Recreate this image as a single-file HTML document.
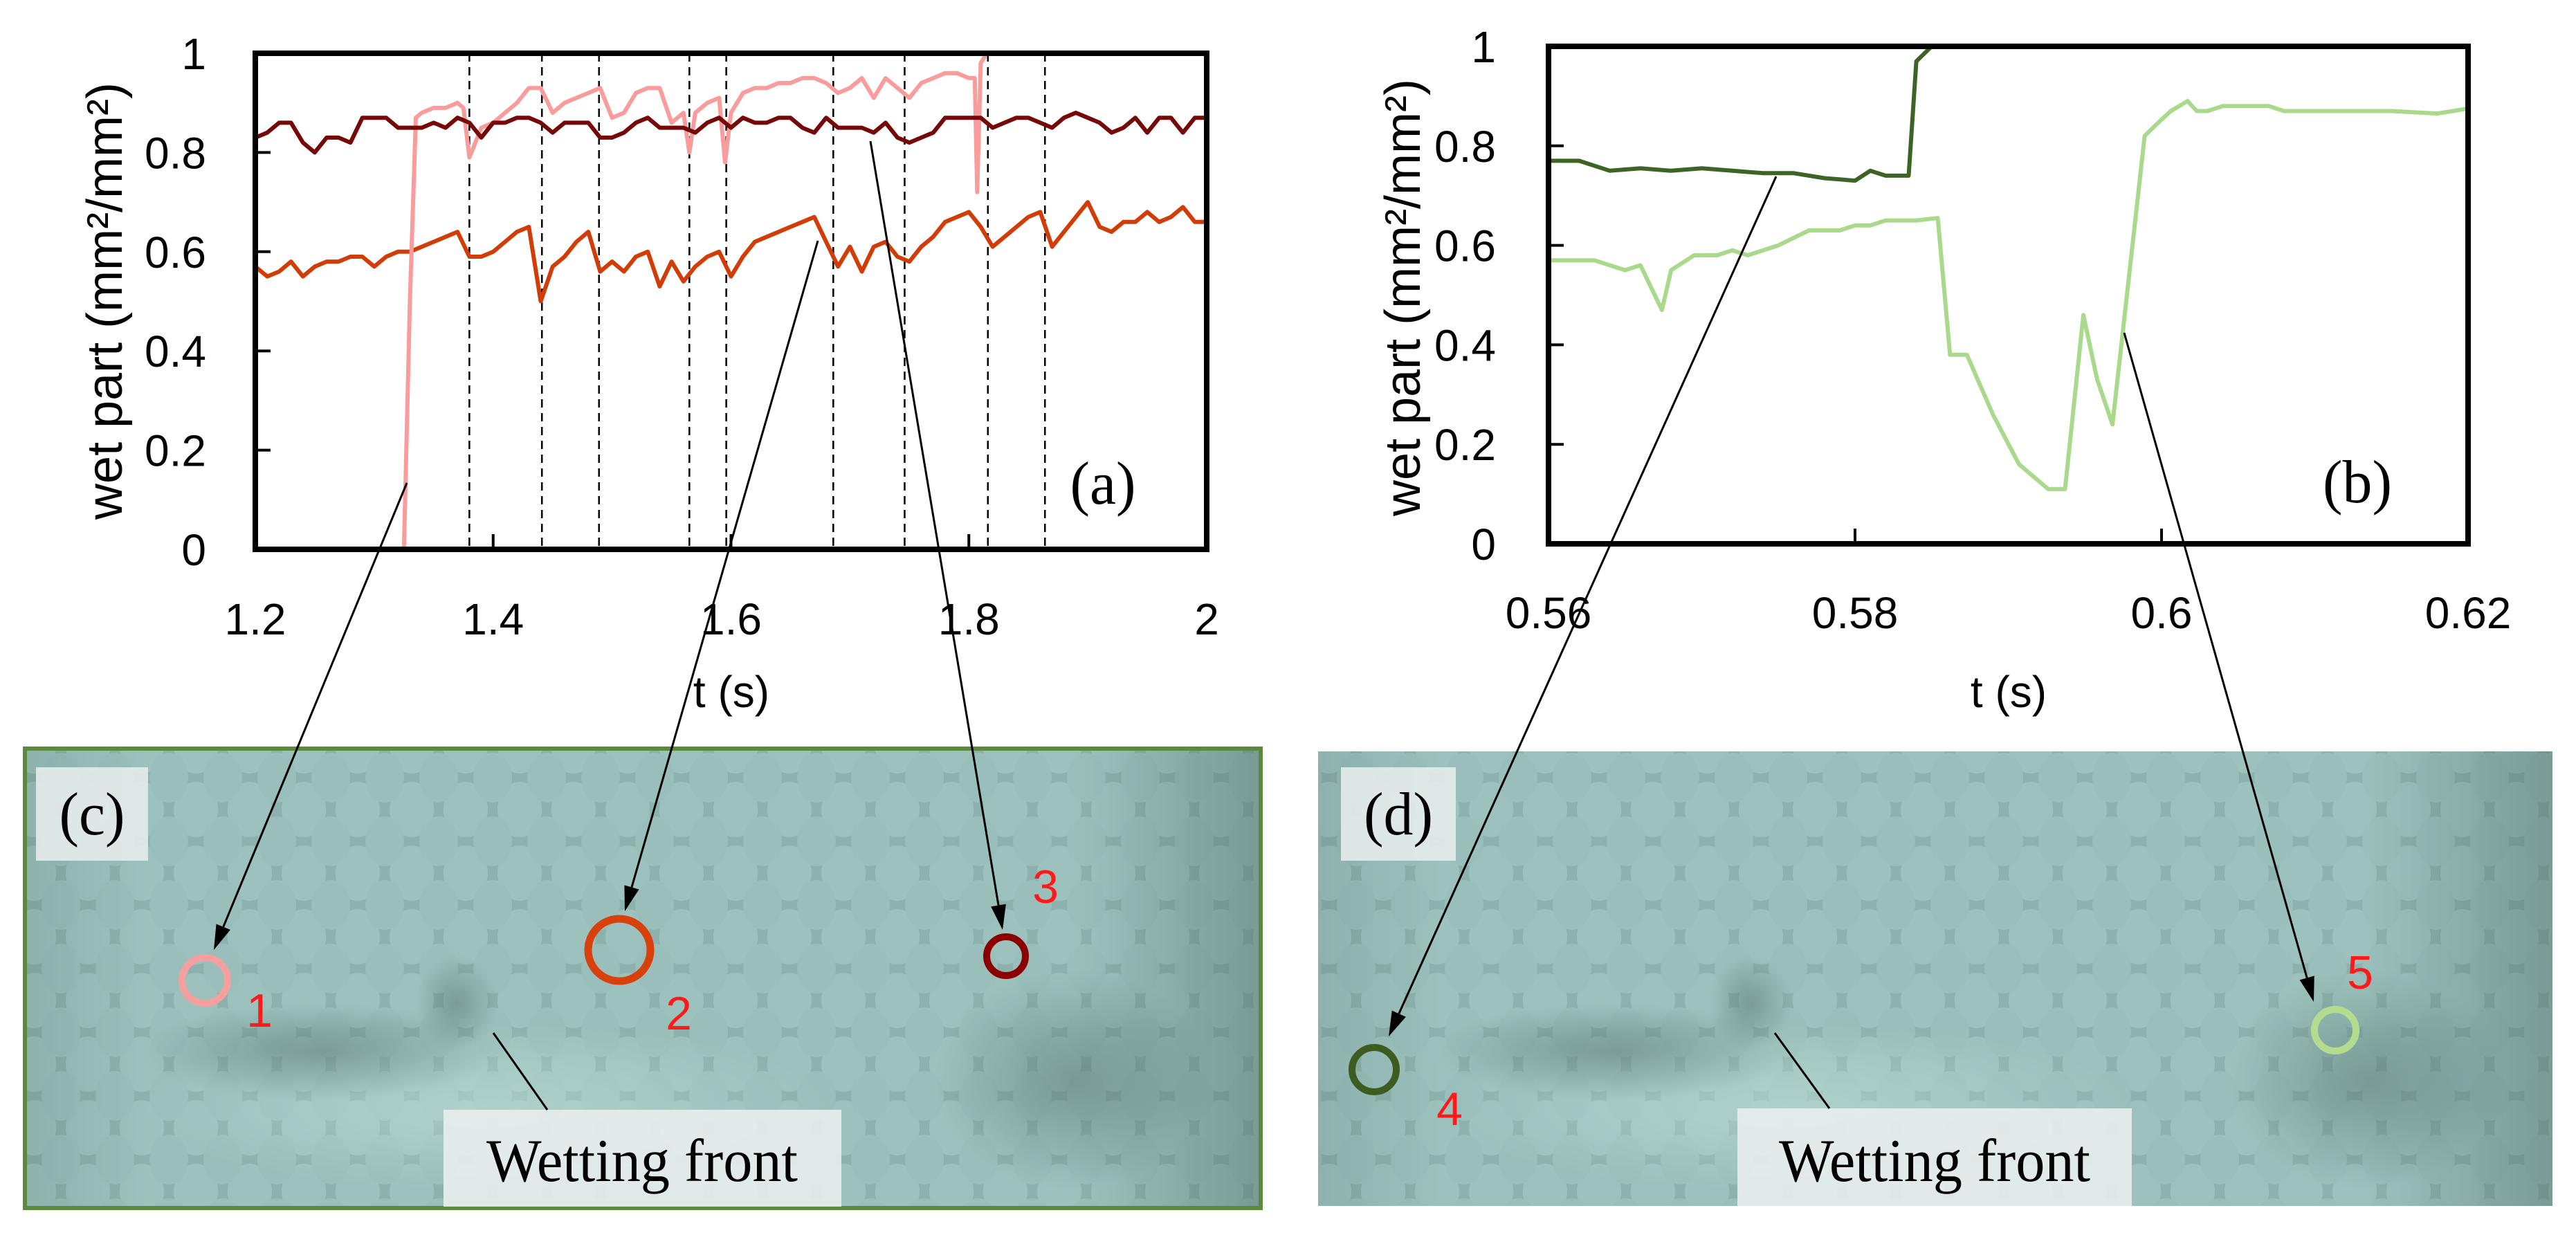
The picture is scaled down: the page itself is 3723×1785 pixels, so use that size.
<!DOCTYPE html>
<html><head><meta charset="utf-8"><style>
html,body{margin:0;padding:0;background:#fff;}
svg{display:block;}
.tk{font-family:"Liberation Sans Narrow","Liberation Sans",sans-serif;font-size:64px;fill:#000;}
.ser{font-family:"Liberation Serif",serif;fill:#000;}
.num{font-family:"Liberation Sans Narrow","Liberation Sans",sans-serif;font-size:68px;fill:#ff1a1a;}
</style></head><body>
<svg id="fig" width="3723" height="1785" viewBox="0 0 3723 1785" xmlns="http://www.w3.org/2000/svg">
<defs>
<pattern id="bub" width="78" height="92" patternUnits="userSpaceOnUse" patternTransform="translate(10,20)">
<rect width="78" height="92" fill="#8db1ac"/>
<ellipse cx="39" cy="46" rx="32" ry="40" fill="#9dc2bd"/>
<ellipse cx="0" cy="0" rx="28" ry="36" fill="#9abfba"/>
<ellipse cx="78" cy="0" rx="28" ry="36" fill="#9abfba"/>
<ellipse cx="0" cy="92" rx="28" ry="36" fill="#9abfba"/>
<ellipse cx="78" cy="92" rx="28" ry="36" fill="#9abfba"/>
</pattern>
<linearGradient id="shadeR" x1="0" x2="1" y1="0" y2="0">
<stop offset="0" stop-color="#3a5552" stop-opacity="0.15"/>
<stop offset="0.1" stop-color="#3a5552" stop-opacity="0"/>
<stop offset="0.85" stop-color="#3a5552" stop-opacity="0"/>
<stop offset="1" stop-color="#3a5552" stop-opacity="0.35"/>
</linearGradient>
<radialGradient id="darkblob"><stop offset="0" stop-color="#4e6966" stop-opacity="0.45"/><stop offset="1" stop-color="#4e6966" stop-opacity="0"/></radialGradient>
<radialGradient id="lightblob"><stop offset="0" stop-color="#c3e3dd" stop-opacity="0.5"/><stop offset="1" stop-color="#c3e3dd" stop-opacity="0"/></radialGradient>
</defs>

<g>
<rect x="36" y="1082" width="1786" height="664" fill="url(#bub)"/>
<ellipse cx="700" cy="1600" rx="500" ry="120" fill="url(#lightblob)"/>
<ellipse cx="1550" cy="1560" rx="200" ry="160" fill="url(#darkblob)"/>
<ellipse cx="460" cy="1520" rx="260" ry="70" fill="url(#darkblob)"/>
<ellipse cx="660" cy="1450" rx="60" ry="70" fill="url(#darkblob)"/>
<rect x="36" y="1082" width="1786" height="664" fill="url(#shadeR)"/>
<rect x="36" y="1082" width="1786" height="664" fill="none" stroke="#5b8a3c" stroke-width="6"/>
</g>
<g>
<rect x="1905" y="1086" width="1784" height="657" fill="url(#bub)"/>
<ellipse cx="2580" cy="1600" rx="500" ry="120" fill="url(#lightblob)"/>
<ellipse cx="3420" cy="1560" rx="200" ry="160" fill="url(#darkblob)"/>
<ellipse cx="2330" cy="1520" rx="260" ry="70" fill="url(#darkblob)"/>
<ellipse cx="2530" cy="1450" rx="60" ry="70" fill="url(#darkblob)"/>
<rect x="1905" y="1086" width="1784" height="657" fill="url(#shadeR)"/>
</g>

<g>
<rect x="52" y="1109" width="162" height="135" fill="#e6eceb" opacity="0.9"/>
<text class="ser" x="133" y="1206" font-size="88" text-anchor="middle" textLength="95" lengthAdjust="spacingAndGlyphs">(c)</text></g>
<g>
<rect x="1938" y="1109" width="166" height="135" fill="#e6eceb" opacity="0.9"/>
<text class="ser" x="2021" y="1206" font-size="88" text-anchor="middle" textLength="100" lengthAdjust="spacingAndGlyphs">(d)</text></g>
<g>
<rect x="641" y="1604" width="575" height="140" fill="#e9eeed" opacity="0.9"/>
<text class="ser" x="928" y="1707" font-size="88" text-anchor="middle" textLength="450" lengthAdjust="spacingAndGlyphs">Wetting front</text>
<line x1="713" y1="1493" x2="791" y2="1604" stroke="#000" stroke-width="3"/></g>
<g>
<rect x="2511" y="1602" width="570" height="141" fill="#e9eeed" opacity="0.9"/>
<text class="ser" x="2796" y="1707" font-size="88" text-anchor="middle" textLength="450" lengthAdjust="spacingAndGlyphs">Wetting front</text>
<line x1="2565" y1="1493" x2="2644" y2="1602" stroke="#000" stroke-width="3"/></g>

<circle cx="296" cy="1417" r="33" fill="none" stroke="#f5a0a0" stroke-width="10"/>
<circle cx="895" cy="1373" r="45" fill="none" stroke="#d8400c" stroke-width="11"/>
<circle cx="1454" cy="1382" r="28" fill="none" stroke="#8b0000" stroke-width="10"/>
<circle cx="1986" cy="1546" r="32" fill="none" stroke="#3d5c1f" stroke-width="10"/>
<circle cx="3375" cy="1489" r="30" fill="none" stroke="#b4dc8e" stroke-width="10"/>
<text class="num" x="375" y="1484" text-anchor="middle">1</text>
<text class="num" x="981" y="1488" text-anchor="middle">2</text>
<text class="num" x="1511" y="1305" text-anchor="middle">3</text>
<text class="num" x="2095" y="1626" text-anchor="middle">4</text>
<text class="num" x="3411" y="1429" text-anchor="middle">5</text>

<g id="chartA"></g>
<g id="chartB"></g>
<g id="arrows"></g>
</svg>
<script>
// ---- chart (a) data ----
const tA = [];
for (let i = 0; i <= 80; i++) tA.push(1.2 + i * 0.01);
const series3 = [0.83,0.84,0.86,0.86,0.82,0.80,0.83,0.83,0.82,0.87,0.87,0.87,0.85,0.85,0.85,0.86,0.85,0.87,0.86,0.83,0.86,0.86,0.87,0.87,0.86,0.84,0.86,0.86,0.86,0.83,0.83,0.84,0.86,0.87,0.85,0.85,0.85,0.84,0.86,0.87,0.85,0.87,0.86,0.86,0.87,0.87,0.85,0.84,0.87,0.85,0.85,0.85,0.84,0.86,0.83,0.82,0.83,0.84,0.87,0.87,0.87,0.87,0.85,0.86,0.87,0.87,0.86,0.85,0.87,0.88,0.87,0.86,0.84,0.85,0.87,0.84,0.87,0.87,0.84,0.87,0.87];
const series2 = [0.57,0.55,0.56,0.58,0.55,0.57,0.58,0.58,0.59,0.59,0.57,0.59,0.60,0.60,0.61,0.62,0.63,0.64,0.59,0.59,0.60,0.62,0.64,0.65,0.50,0.57,0.59,0.62,0.64,0.56,0.58,0.56,0.59,0.60,0.53,0.58,0.54,0.57,0.59,0.60,0.55,0.59,0.62,0.63,0.64,0.65,0.66,0.67,0.62,0.57,0.61,0.56,0.61,0.62,0.59,0.58,0.61,0.63,0.66,0.67,0.68,0.65,0.61,0.63,0.65,0.67,0.68,0.61,0.64,0.67,0.70,0.65,0.64,0.66,0.66,0.68,0.66,0.67,0.69,0.66,0.66];
const t1 = [1.2,1.325,1.33,1.335,1.34,1.35,1.36,1.37,1.375,1.38,1.39,1.40,1.41,1.42,1.43,1.44,1.45,1.46,1.47,1.48,1.49,1.50,1.51,1.52,1.53,1.54,1.55,1.56,1.565,1.57,1.58,1.59,1.595,1.60,1.61,1.62,1.63,1.64,1.65,1.66,1.67,1.68,1.69,1.70,1.71,1.72,1.73,1.74,1.75,1.76,1.77,1.78,1.79,1.80,1.805,1.807,1.81,1.815,2.0];
const series1 = [0,0,0.5,0.87,0.88,0.89,0.89,0.90,0.89,0.79,0.85,0.86,0.88,0.90,0.93,0.93,0.88,0.90,0.91,0.92,0.93,0.87,0.88,0.92,0.93,0.93,0.86,0.88,0.80,0.88,0.90,0.91,0.78,0.88,0.92,0.93,0.93,0.94,0.94,0.95,0.95,0.94,0.92,0.93,0.95,0.91,0.95,0.93,0.91,0.94,0.95,0.96,0.96,0.95,0.95,0.72,0.98,1.0,1.0];
const dashT = [1.38,1.441,1.489,1.565,1.596,1.686,1.746,1.816,1.864];
const ticksAx = [1.2,1.4,1.6,1.8,2];
const tickLabAx = ["1.2","1.4","1.6","1.8","2"];
const ticksY = [0,0.2,0.4,0.6,0.8,1];
const tickLabY = ["0","0.2","0.4","0.6","0.8","1"];
// ---- chart (b) data ----
const tD = [0.56,0.562,0.564,0.566,0.568,0.570,0.572,0.574,0.576,0.578,0.580,0.581,0.582,0.5835,0.584,0.585,0.62];
const series4 = [0.77,0.77,0.75,0.755,0.75,0.755,0.75,0.745,0.745,0.735,0.73,0.75,0.74,0.74,0.97,1.0,1.0];
const tL = [0.56,0.563,0.565,0.566,0.5674,0.568,0.5695,0.571,0.572,0.573,0.575,0.577,0.579,0.580,0.581,0.582,0.584,0.5854,0.5862,0.5873,0.589,0.5907,0.5926,0.5937,0.5949,0.5958,0.5968,0.5989,0.5999,0.6006,0.6017,0.6023,0.603,0.604,0.607,0.608,0.615,0.618,0.62];
const series5 = [0.57,0.57,0.55,0.56,0.47,0.55,0.58,0.58,0.59,0.58,0.60,0.63,0.63,0.64,0.64,0.65,0.65,0.655,0.38,0.38,0.26,0.16,0.11,0.11,0.46,0.33,0.24,0.82,0.85,0.87,0.89,0.87,0.87,0.88,0.88,0.87,0.87,0.865,0.875];
const ticksBx = [0.56,0.58,0.6,0.62];
const tickLabBx = ["0.56","0.58","0.6","0.62"];

const NS = "http://www.w3.org/2000/svg";
function mk(parent, tag, attrs, text) {
  const e = document.createElementNS(NS, tag);
  for (const k in attrs) e.setAttribute(k, attrs[k]);
  if (text !== undefined) e.textContent = text;
  parent.appendChild(e);
  return e;
}
const A = {x0:369, x1:1744, y0:794, y1:77, tmin:1.2, tmax:2.0};
const xA = t => A.x0 + (t - A.tmin) / (A.tmax - A.tmin) * (A.x1 - A.x0);
const yA = v => A.y0 - v * (A.y0 - A.y1);
const B = {x0:2238, x1:3567, y0:786, y1:67, tmin:0.56, tmax:0.62};
const xB = t => B.x0 + (t - B.tmin) / (B.tmax - B.tmin) * (B.x1 - B.x0);
const yB = v => B.y0 - v * (B.y0 - B.y1);

function pathOf(ts, vs, fx, fy) {
  return ts.map((t, i) => (i ? "L" : "M") + fx(t).toFixed(1) + "," + fy(vs[i]).toFixed(1)).join(" ");
}

const gA = document.getElementById("chartA");
dashT.forEach(t => {
  const l = mk(gA, "line", {x1:xA(t), x2:xA(t), y1:A.y1, y2:A.y0, stroke:"#000", "stroke-width":2.5, "stroke-dasharray":"12,8"});
  
  
});
let p;
p = mk(gA, "path", {d:pathOf(tA, series2, xA, yA), fill:"none", stroke:"#d23c06", "stroke-width":6, "stroke-linejoin":"round"});


p = mk(gA, "path", {d:pathOf(t1, series1, xA, yA), fill:"none", stroke:"#fa9c9c", "stroke-width":6, "stroke-linejoin":"round"});


p = mk(gA, "path", {d:pathOf(tA, series3, xA, yA), fill:"none", stroke:"#760808", "stroke-width":6, "stroke-linejoin":"round"});


let fr = mk(gA, "rect", {x:A.x0, y:A.y1, width:A.x1-A.x0, height:A.y0-A.y1, fill:"none", stroke:"#000", "stroke-width":8});


ticksY.forEach((v, i) => {
  mk(gA, "line", {x1:A.x0, x2:A.x0+22, y1:yA(v), y2:yA(v), stroke:"#000", "stroke-width":4});
  const t = mk(gA, "text", {x:298, y:yA(v)+23, "text-anchor":"end", class:"tk"}, tickLabY[i]);
  
  
});
ticksAx.forEach((v, i) => {
  mk(gA, "line", {x1:xA(v), x2:xA(v), y1:A.y0, y2:A.y0-22, stroke:"#000", "stroke-width":4});
  const t = mk(gA, "text", {x:xA(v), y:917, "text-anchor":"middle", class:"tk"}, tickLabAx[i]);
  
  
});
let tt = mk(gA, "text", {x:1057, y:1022, "text-anchor":"middle", class:"tk"}, "t (s)");


tt = mk(gA, "text", {x:0, y:0, transform:"translate(176,435) rotate(-90)", "text-anchor":"middle", "font-family":"Liberation Sans, sans-serif", "font-size":"72"}, "wet part (mm²/mm²)");


tt = mk(gA, "text", {x:1594, y:728, "text-anchor":"middle", class:"ser", "font-size":"88", textLength:"95", lengthAdjust:"spacingAndGlyphs"}, "(a)");



const gB = document.getElementById("chartB");
p = mk(gB, "path", {d:pathOf(tL, series5, xB, yB), fill:"none", stroke:"#a9d98a", "stroke-width":6, "stroke-linejoin":"round"});


p = mk(gB, "path", {d:pathOf(tD, series4, xB, yB), fill:"none", stroke:"#3d6425", "stroke-width":6, "stroke-linejoin":"round"});


fr = mk(gB, "rect", {x:B.x0, y:B.y1, width:B.x1-B.x0, height:B.y0-B.y1, fill:"none", stroke:"#000", "stroke-width":8});


ticksY.forEach((v, i) => {
  mk(gB, "line", {x1:B.x0, x2:B.x0+22, y1:yB(v), y2:yB(v), stroke:"#000", "stroke-width":4});
  const t = mk(gB, "text", {x:2162, y:yB(v)+23, "text-anchor":"end", class:"tk"}, tickLabY[i]);
  
  
});
ticksBx.forEach((v, i) => {
  mk(gB, "line", {x1:xB(v), x2:xB(v), y1:B.y0, y2:B.y0-22, stroke:"#000", "stroke-width":4});
  const t = mk(gB, "text", {x:xB(v), y:908, "text-anchor":"middle", class:"tk"}, tickLabBx[i]);
  
  
});
tt = mk(gB, "text", {x:2903, y:1022, "text-anchor":"middle", class:"tk"}, "t (s)");


tt = mk(gB, "text", {x:0, y:0, transform:"translate(2052,430) rotate(-90)", "text-anchor":"middle", "font-family":"Liberation Sans, sans-serif", "font-size":"72"}, "wet part (mm²/mm²)");


tt = mk(gB, "text", {x:3407, y:726, "text-anchor":"middle", class:"ser", "font-size":"88", textLength:"100", lengthAdjust:"spacingAndGlyphs"}, "(b)");



const gR = document.getElementById("arrows");
const arrows = [[588,698,309,1373],[1182,348,903,1317],[1258,204,1449,1344],[2567,255,2007,1498],[3070,481,3344,1448]];
arrows.forEach(a => {
  const [x1,y1,x2,y2] = a;
  const dx = x2-x1, dy = y2-y1, L = Math.hypot(dx,dy), ux = dx/L, uy = dy/L;
  const bx = x2-ux*36, by = y2-uy*36;
  const g = mk(gR, "g", {});
  
  
  mk(g, "line", {x1:x1, y1:y1, x2:bx, y2:by, stroke:"#000", "stroke-width":3});
  mk(g, "polygon", {points:`${x2},${y2} ${bx-uy*11},${by+ux*11} ${bx+uy*11},${by-ux*11}`, fill:"#000"});
});
</script>
</body></html>
